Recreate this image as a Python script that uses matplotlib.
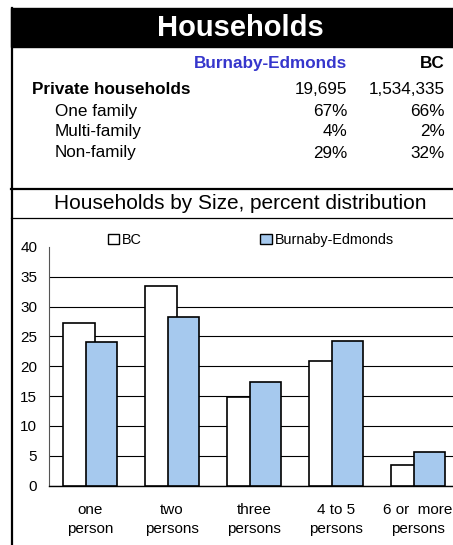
import matplotlib
matplotlib.use("Agg")
import matplotlib.pyplot as plt
from matplotlib.patches import Rectangle
from matplotlib.lines import Line2D

plt.rcParams['font.family'] = ['Liberation Sans', 'DejaVu Sans']

# ---- data ----
categories = ["one\nperson", "two\npersons", "three\npersons", "4 to 5\npersons", "6 or  more\npersons"]
bc_values = [27.3, 33.5, 14.9, 20.8, 3.5]
be_values = [24.1, 28.2, 17.3, 24.3, 5.6]
series_names = ["BC", "Burnaby-Edmonds"]
yticks = [0, 5, 10, 15, 20, 25, 30, 35, 40]

table_header = ["Burnaby-Edmonds", "BC"]
table_rows = ["Private households", "One family", "Multi-family", "Non-family"]
table_be = ["19,695", "67%", "4%", "29%"]
table_bc = ["1,534,335", "66%", "2%", "32%"]

title = "Households"
chart_title = "Households by Size, percent distribution"

W, H = 453, 545
fig = plt.figure(figsize=(W / 100, H / 100), dpi=100)

def fx(x):
    return x / W

def fy(y):
    return 1 - y / H

# ---- frame / title band ----
fig.patches.append(Rectangle((fx(11), fy(47)), fx(460) - fx(11), fy(8) - fy(47),
                             transform=fig.transFigure, facecolor="black", edgecolor="black"))
fig.text(fx(240), fy(28), title, color="white", fontsize=21, fontweight="bold",
         ha="center", va="center")
fig.lines.append(Line2D([fx(11.5), fx(11.5)], [fy(8), fy(545)], transform=fig.transFigure,
                        color="black", lw=1.6))
fig.lines.append(Line2D([fx(11), fx(460)], [fy(188.5), fy(188.5)], transform=fig.transFigure,
                        color="black", lw=1.6))
fig.lines.append(Line2D([fx(11), fx(460)], [fy(218), fy(218)], transform=fig.transFigure,
                        color="black", lw=0.9))

# ---- table ----
fs_t = 12.3
fig.text(fx(347), fy(63), table_header[0], color="#3636CC", fontsize=fs_t, fontweight="bold",
         ha="right", va="center")
fig.text(fx(445), fy(63), table_header[1], color="black", fontsize=fs_t, fontweight="bold",
         ha="right", va="center")
row_y = [89, 111, 131, 153]
for i, lab in enumerate(table_rows):
    bold = i == 0
    fig.text(fx(32 if bold else 55), fy(row_y[i]), lab, fontsize=fs_t,
             fontweight="bold" if bold else "normal", ha="left", va="center")
    fig.text(fx(347), fy(row_y[i]), table_be[i], fontsize=fs_t, ha="right", va="center")
    fig.text(fx(445), fy(row_y[i]), table_bc[i], fontsize=fs_t, ha="right", va="center")

fig.text(fx(240), fy(203), chart_title, fontsize=15, ha="center", va="center")

# ---- chart ----
ax = fig.add_axes([fx(49), fy(485.7), fx(459) - fx(49), fy(246.8) - fy(485.7)])
x = list(range(len(categories)))
w = 0.38
ax.bar([i - 0.135 for i in x], bc_values, width=w, color="white", edgecolor="black",
       linewidth=1.2, zorder=3, label=series_names[0])
ax.bar([i + 0.138 for i in x], be_values, width=w, color="#A6C9EE", edgecolor="black",
       linewidth=1.2, zorder=4, label=series_names[1])
ax.set_xlim(-0.5, 4.5)
ax.set_ylim(0, 40)
ax.set_yticks(yticks)
ax.set_xticks(x)
ax.set_xticklabels(categories, fontsize=11, linespacing=1.45)
ax.tick_params(axis="y", length=0, pad=8.5, labelsize=11)
ax.tick_params(axis="x", length=0, pad=12.5)
ax.yaxis.grid(True, color="black", linewidth=0.8, zorder=0)
ax.set_axisbelow(True)
ax.get_ygridlines()[-1].set_visible(False)
for s in ["top", "right"]:
    ax.spines[s].set_visible(False)
ax.spines["left"].set_color("#555555")
ax.spines["left"].set_linewidth(0.8)
ax.spines["bottom"].set_color("black")
ax.spines["bottom"].set_linewidth(1.0)

leg = ax.legend(ncol=2, loc="center left", bbox_to_anchor=(fx(108), fy(240)),
                bbox_transform=fig.transFigure, frameon=False, fontsize=10.4,
                handlelength=0.78, handleheight=0.78, handletextpad=0.2,
                columnspacing=8.2, borderpad=0, borderaxespad=0)
for h in leg.legend_handles:
    h.set_linewidth(1.0)

fig.savefig("out.png", dpi=100)
